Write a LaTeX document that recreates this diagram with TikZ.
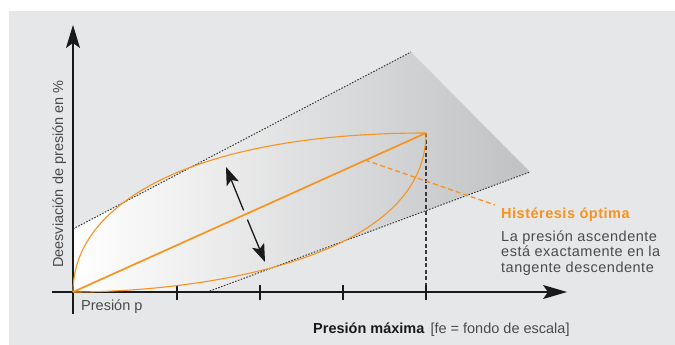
\documentclass[tikz,border=0pt]{standalone}
\usepackage{fontspec}
\setsansfont{Liberation Sans}
\newfontfamily\spacedsans[LetterSpace=3.5]{Liberation Sans}
\usetikzlibrary{arrows.meta,positioning}
\definecolor{panel}{HTML}{E6E7E9}
\definecolor{band}{HTML}{C0C1C3}
\definecolor{hyst}{HTML}{F7931E}
\definecolor{ink}{HTML}{1A1A1A}
\definecolor{muted}{HTML}{4A4B4D}
\definecolor{guide}{HTML}{3A3A3A}

\begin{document}
\begin{tikzpicture}[x=1pt, y=-1pt, font=\sffamily\fontsize{14.5}{15.5}\selectfont]
  \useasboundingbox (0,0) rectangle (675,345);
  \fill[panel] (9,11) rectangle (675,345);

  % key points
  \coordinate (O) at (73,292);
  \coordinate (P) at (426,133);
  \coordinate (Pfoot) at (426,292);
  \coordinate (up1) at (73,229);
  \coordinate (up2) at (411,52);
  \coordinate (lo1) at (207,292);
  \coordinate (lo2) at (530,172);

  % tolerance band
  \shade[left color=white, right color=band] (up1) -- (up2) -- (lo2) -- (lo1) -- (O) -- cycle;
  \draw[guide, line width=1pt, dash pattern=on 1.5pt off 1.5pt] (up1) -- (up2);
  \draw[guide, line width=1pt, dash pattern=on 1.5pt off 1.5pt] (lo1) -- (lo2);
  \draw[guide, line width=1.4pt, dash pattern=on 4pt off 2.5pt] (P) -- (Pfoot);

  % axes
  \coordinate (ybot) at (73,314);
  \coordinate (ytop) at (73,25);
  \coordinate (xl) at (52,292);
  \coordinate (xr) at (567,292);
  \draw[ink, line width=1.2pt, -{Stealth[length=23pt, width=14pt, inset=5pt]}] (ybot) -- (ytop);
  \draw[ink, line width=1.2pt, -{Stealth[length=24pt, width=14pt, inset=5pt]}] (xl) -- (xr);
  \foreach \x in {177,260,343,426}
    \draw[ink, line width=1.2pt] (\x,285) -- (\x,300);

  % hysteresis curves
  \draw[hyst, line width=1.1pt] (O) .. controls (73,200) and (200,133) .. (P);
  \draw[hyst, line width=1.1pt] (O) .. controls (200,292) and (426,260) .. (P);
  \draw[hyst, line width=1.7pt] (O) -- (P);
  \coordinate (tg) at (365,160);
  \coordinate (tgend) at (495,205);
  \draw[hyst, line width=1.3pt, dash pattern=on 5pt off 3pt] (tg) -- (tgend);

  % spread arrow
  \coordinate (mid) at (245.5,215);
  \coordinate (tipA) at (226,167);
  \coordinate (tipB) at (265,262);
  \draw[ink, line width=1.3pt, shorten <=5pt, -{Stealth[length=18pt, width=13pt, inset=4pt]}] (mid) -- (tipA);
  \draw[ink, line width=1.3pt, shorten <=5pt, -{Stealth[length=18pt, width=13pt, inset=4pt]}] (mid) -- (tipB);

  % labels
  \node[rotate=90, anchor=base, inner sep=0pt, text=muted] (ylab) at (63,174) {Deesviación de presión en \%};
  \node[anchor=base west, inner sep=0pt, text=muted] (plab) at (81,310) {Presión p};
  \node[anchor=base west, inner sep=0pt, text=ink] (xlab) at (313,333)
    {\textbf{Presión máxima}\hspace{6pt}{\color{muted}[fe = fondo de escala]}};
  \node[anchor=base west, inner sep=0pt, text=hyst, font=\spacedsans\bfseries\fontsize{14.5}{15.5}\selectfont] (title) at (501,218) {Histéresis óptima};
  \node[anchor=base west, inner sep=0pt, text=muted, align=left, font=\spacedsans\fontsize{14.5}{15.5}\selectfont] (desc) at (501,272)
    {La presión ascendente\\está exactamente en la\\tangente descendente};
\end{tikzpicture}
\end{document}
